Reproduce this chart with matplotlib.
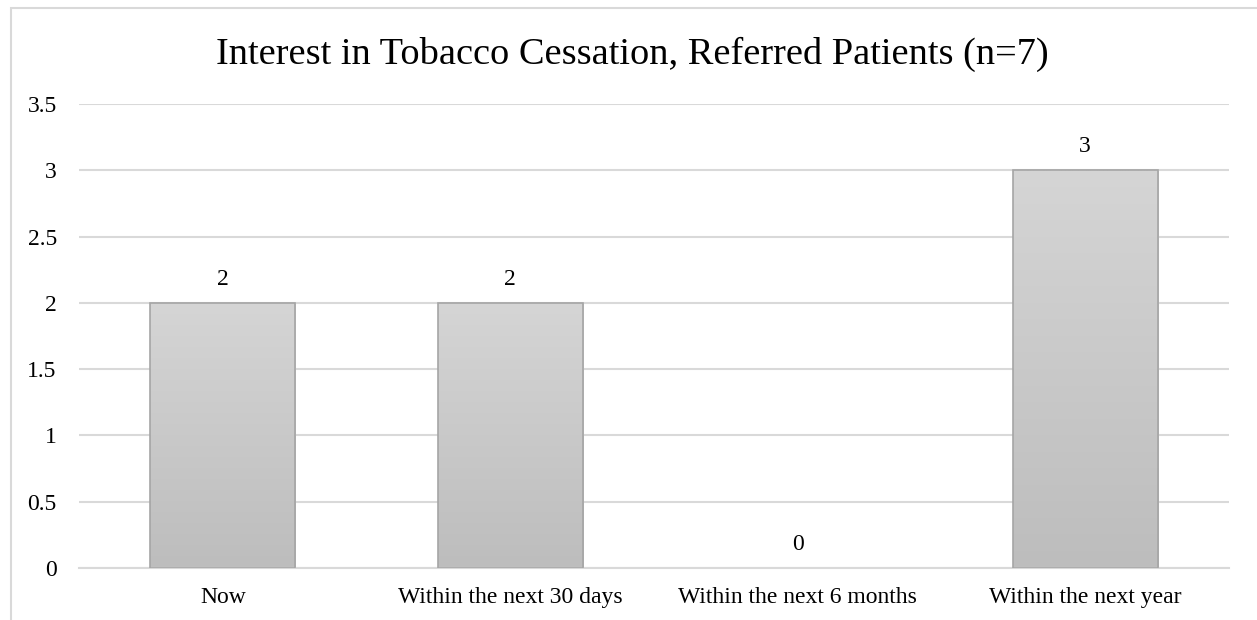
import matplotlib
matplotlib.use("Agg")
import matplotlib.pyplot as plt
import numpy as np
from matplotlib.patches import Rectangle
from matplotlib.colors import LinearSegmentedColormap

categories = ["Now", "Within the next 30 days", "Within the next 6 months", "Within the next year"]
counts = [2, 2, 0, 3]
y_ticks = [0, 0.5, 1, 1.5, 2, 2.5, 3, 3.5]
y_tick_labels = ["0", "0.5", "1", "1.5", "2", "2.5", "3", "3.5"]
title = "Interest in Tobacco Cessation, Referred Patients (n=7)"

plt.rcParams["font.family"] = ["Liberation Serif", "DejaVu Serif"]

W, H = 1257, 620
fig = plt.figure(figsize=(W / 100, H / 100), dpi=100)
fig.patch.set_facecolor("white")

# outer chart frame (extends past the right and bottom edges)
fig.add_artist(Rectangle((11 / W, -0.1), 1.2, 1 - 8 / H + 0.1, transform=fig.transFigure,
                         fill=False, edgecolor="#d9d9d9", linewidth=1.5))

left, right, top, bottom = 79, 1229, 104, 568
ax = fig.add_axes([left / W, 1 - bottom / H, (right - left) / W, (bottom - top) / H])

x = np.arange(len(categories))
bars = ax.bar(x, counts, width=0.505, color="none", edgecolor="#a5a5a5", linewidth=1.2, zorder=3)

cmap = LinearSegmentedColormap.from_list("bar_grad", ["#bdbdbd", "#d5d5d5"])
grad = np.linspace(0, 1, 256).reshape(-1, 1)
for b in bars:
    h = b.get_height()
    if h <= 0:
        b.set_edgecolor("none")
        continue
    bx, bw = b.get_x(), b.get_width()
    im = ax.imshow(grad, cmap=cmap, aspect="auto", origin="lower",
                   extent=[bx, bx + bw, 0, h], zorder=2, interpolation="bilinear")
    im.set_clip_path(b)

for xi, v in zip(x, counts):
    ax.annotate(f"{v}", (xi, v), xytext=(0, 17), textcoords="offset points",
                ha="center", va="center", fontsize=17, color="#000000")

ax.set_xlim(-0.5, len(categories) - 0.5)
ax.set_ylim(0, 3.5)
ax.set_yticks(y_ticks)
ax.set_yticklabels(y_tick_labels, fontsize=17)
ax.set_xticks(x)
ax.set_xticklabels(categories, fontsize=17)
ax.tick_params(axis="both", length=0, colors="#000000")
ax.tick_params(axis="y", pad=16)
ax.tick_params(axis="x", pad=14)
ax.yaxis.grid(True, color="#d9d9d9", linewidth=1.5, zorder=0)
ax.set_axisbelow(True)
for s in ["top", "right", "left"]:
    ax.spines[s].set_visible(False)
ax.spines["bottom"].set_color("#d9d9d9")
ax.spines["bottom"].set_linewidth(1.5)

fig.text(632 / W, 1 - 54 / H, title, ha="center", va="center", fontsize=27.6, color="#000000")

fig.savefig("out.png", dpi=100)
